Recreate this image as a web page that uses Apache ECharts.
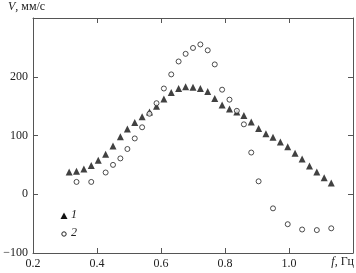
<!DOCTYPE html>
<html>
<head>
<meta charset="utf-8">
<script src="https://cdn.jsdelivr.net/npm/echarts@6/dist/echarts.min.js"></script>
<style>html,body{margin:0;padding:0;background:#fff}#c{width:356px;height:273px}</style>
</head>
<body>
<div id="c"></div>
<script>
// Series 1 (triangles): frequency, Hz and velocity, mm/s
const f1 = [0.313,0.336,0.359,0.382,0.404,0.427,0.450,0.473,0.495,0.518,0.541,0.564,0.586,0.609,0.632,0.655,0.677,0.700,0.723,0.746,0.768,0.791,0.814,0.837,0.859,0.882,0.905,0.928,0.950,0.973,0.996,1.019,1.041,1.064,1.087,1.110,1.132];
const v1 = [38,39,43,49,58,68,82,98,111,122,132,140,150,162,173,180,183,182,180,175,163,152,145,140,134,123,112,103,97,89,81,70,60,48,38,28,19];
// Series 2 (open circles)
const f2 = [0.336,0.382,0.427,0.450,0.473,0.495,0.518,0.541,0.564,0.586,0.609,0.632,0.655,0.677,0.700,0.723,0.746,0.768,0.791,0.814,0.837,0.859,0.882,0.905,0.950,0.996,1.041,1.087,1.132];
const v2 = [21,21,37,50,61,77,95,114,137,155,180,204,226,239,249,255,245,221,178,161,142,119,71,22,-24,-51,-60,-61,-58];
const xTicks = ['0.2','0.4','0.6','0.8','1.0',''];
const yTicks = ['−100','0','100','200',''];

const serif = '"Liberation Serif","DejaVu Serif",serif';
const axisColor = '#555';
const chart = echarts.init(document.getElementById('c'));
const xBase = {
  type: 'value', min: 0.2, max: 1.2, interval: 0.2,
  axisLine: {show: true, onZero: false, lineStyle: {color: axisColor, width: 1}},
  axisTick: {show: true, inside: true, length: 5, lineStyle: {color: axisColor}},
  splitLine: {show: false}
};
const yBase = {
  type: 'value', min: -100, max: 300, interval: 100,
  axisLine: {show: true, onZero: false, lineStyle: {color: axisColor, width: 1}},
  axisTick: {show: true, inside: true, length: 5, lineStyle: {color: axisColor}},
  splitLine: {show: false}
};
chart.setOption({
  animation: false,
  backgroundColor: '#fff',
  grid: {left: 33, right: 3, top: 18, bottom: 20},
  xAxis: [
    Object.assign({}, xBase, {position: 'bottom',
      axisLabel: {fontFamily: serif, fontSize: 12, color: '#222', margin: 5,
        formatter: (v) => xTicks[Math.round((v - 0.2) / 0.2)]}}),
    Object.assign({}, xBase, {position: 'top', axisLabel: {show: false}})
  ],
  yAxis: [
    Object.assign({}, yBase, {position: 'left',
      axisLabel: {fontFamily: serif, fontSize: 12, color: '#222', margin: 5,
        formatter: (v) => yTicks[Math.round((v + 100) / 100)]}}),
    Object.assign({}, yBase, {position: 'right', axisLabel: {show: false}})
  ],
  graphic: [
    {type: 'text', left: 8, top: 1, style: {
      text: '{i|V}, мм/с', fontFamily: serif, fontSize: 12, fill: '#222',
      rich: {i: {fontStyle: 'italic', fontFamily: serif, fontSize: 12}}}},
    {type: 'text', right: 2, top: 256, style: {
      text: '{i|f}, Гц', fontFamily: serif, fontSize: 12, fill: '#222',
      rich: {i: {fontStyle: 'italic', fontFamily: serif, fontSize: 12}}}},
    // legend
    {type: 'polygon', shape: {points: [[64, 212.5], [60.5, 219], [67.5, 219]]}, style: {fill: '#111'}},
    {type: 'text', left: 71, top: 209, style: {text: '1', fontFamily: serif, fontStyle: 'italic', fontSize: 12, fill: '#222'}},
    {type: 'circle', shape: {cx: 64, cy: 234, r: 2.2}, style: {fill: '#fff', stroke: '#222', lineWidth: 1}},
    {type: 'text', left: 71, top: 227, style: {text: '2', fontFamily: serif, fontStyle: 'italic', fontSize: 12, fill: '#222'}}
  ],
  series: [
    {name: '1', type: 'scatter', symbol: 'triangle', symbolSize: 7,
     itemStyle: {color: '#111'},
     data: f1.map((f, i) => [f, v1[i]])},
    {name: '2', type: 'scatter', symbol: 'circle', symbolSize: 5,
     itemStyle: {color: '#fff', borderColor: '#222', borderWidth: 1},
     data: f2.map((f, i) => [f, v2[i]])}
  ]
});
</script>
</body>
</html>
